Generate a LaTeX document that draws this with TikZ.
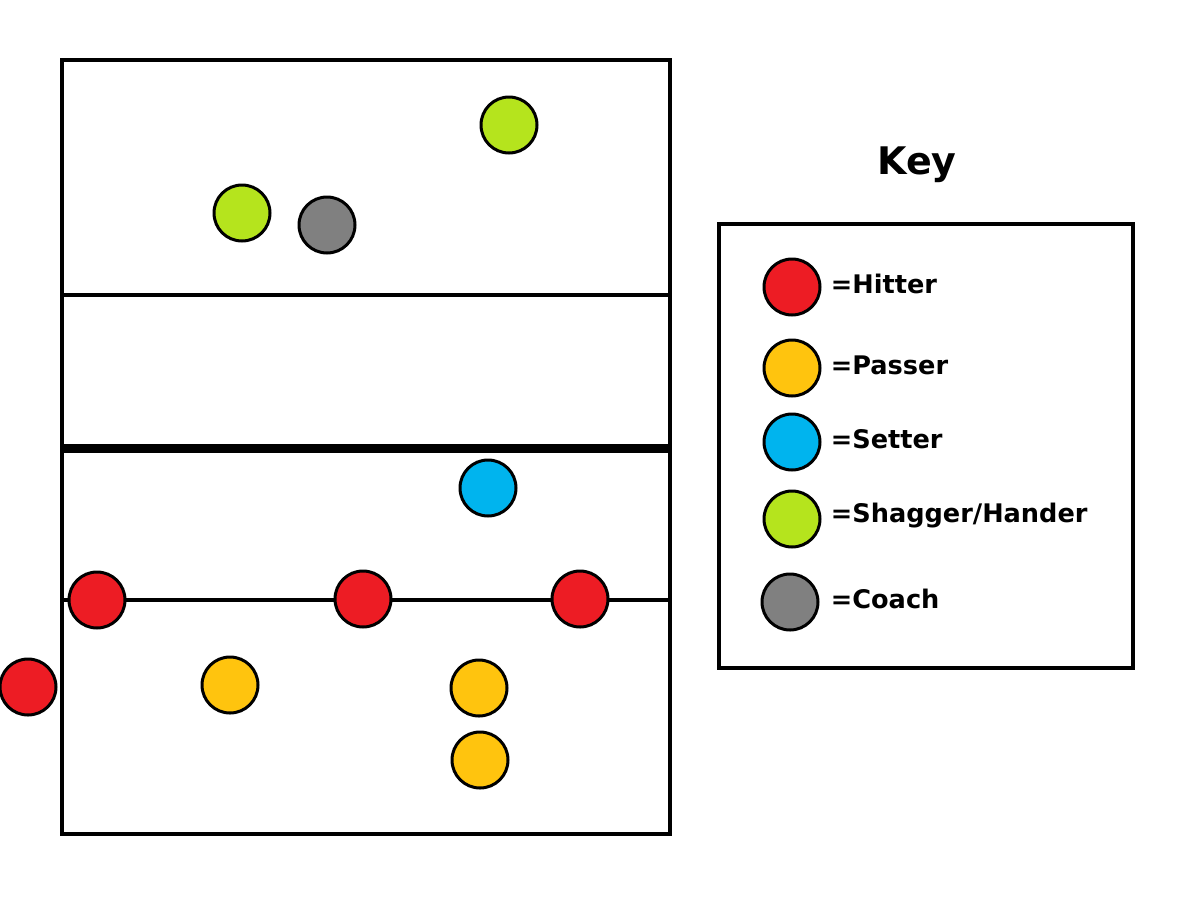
\documentclass[tikz,border=0pt]{standalone}
\usepackage{fontspec}
\setmainfont{DejaVu Sans}
\usepackage{tikz}
\usetikzlibrary{positioning}
\newcommand{\playersize}{28pt}

\definecolor{hitred}{RGB}{237,28,36}
\definecolor{passyellow}{RGB}{255,196,14}
\definecolor{setblue}{RGB}{0,180,238}
\definecolor{shaggreen}{RGB}{181,228,29}
\definecolor{coachgray}{RGB}{128,128,128}

\begin{document}
\begin{tikzpicture}[x=0.5pt,y=-0.5pt,
    player/.style={draw, circle, line width=1.5pt, minimum size=\playersize, inner sep=0pt},
    hitter/.style={player, fill=hitred},
    passer/.style={player, fill=passyellow},
    setter/.style={player, fill=setblue},
    shagger/.style={player, fill=shaggreen},
    coach/.style={player, fill=coachgray},
    keytext/.style={inner sep=0pt, yshift=1.5pt, font=\fontsize{12.8}{15}\selectfont\bfseries}]
    \useasboundingbox (0,0) rectangle (1200,911);
    % court
        \draw[line width=2pt] (62,60) rectangle (670,834);
        \draw[line width=2pt] (62,295) -- (670,295);
        \draw[line width=4.5pt] (62,448) -- (670,448); % net
        \draw[line width=2pt] (62,600) -- (670,600);
    % far side
        \node (g1) at (509,125) [shagger] {};
        \node (g2) at (242,213) [shagger] {};
        \node (c1) at (327,225) [coach] {};
    % near side
        \node (s1) at (488,488) [setter] {};
        \node (h1) at (97,600) [hitter] {};
        \node (h2) at (363,599) [hitter] {};
        \node (h3) at (580,599) [hitter] {};
        \node (h4) at (28,687) [hitter] {};
        \node (p1) at (230,685) [passer] {};
        \node (p2) at (479,688) [passer] {};
        \node (p3) at (480,760) [passer] {};
    % key
    \node (keytitle) at (917,165) [font=\fontsize{19}{22}\selectfont\bfseries] {Key};
    \draw[line width=2pt] (719,224) rectangle (1133,668);
        \node (kh) at (792,287) [hitter] {};
        \node (kp) at (792,368) [passer] {};
        \node (ks) at (792,442) [setter] {};
        \node (kg) at (792,519) [shagger] {};
        \node (kc) at (790,602) [coach] {};
        \node (lh) [keytext, right=4.5pt of kh] {=Hitter};
        \node (lp) [keytext, right=4.5pt of kp] {=Passer};
        \node (ls) [keytext, right=4.5pt of ks] {=Setter};
        \node (lg) [keytext, right=4.5pt of kg] {=Shagger/Hander};
        \node (lc) [keytext, right=5.5pt of kc] {=Coach};
\end{tikzpicture}
\end{document}
